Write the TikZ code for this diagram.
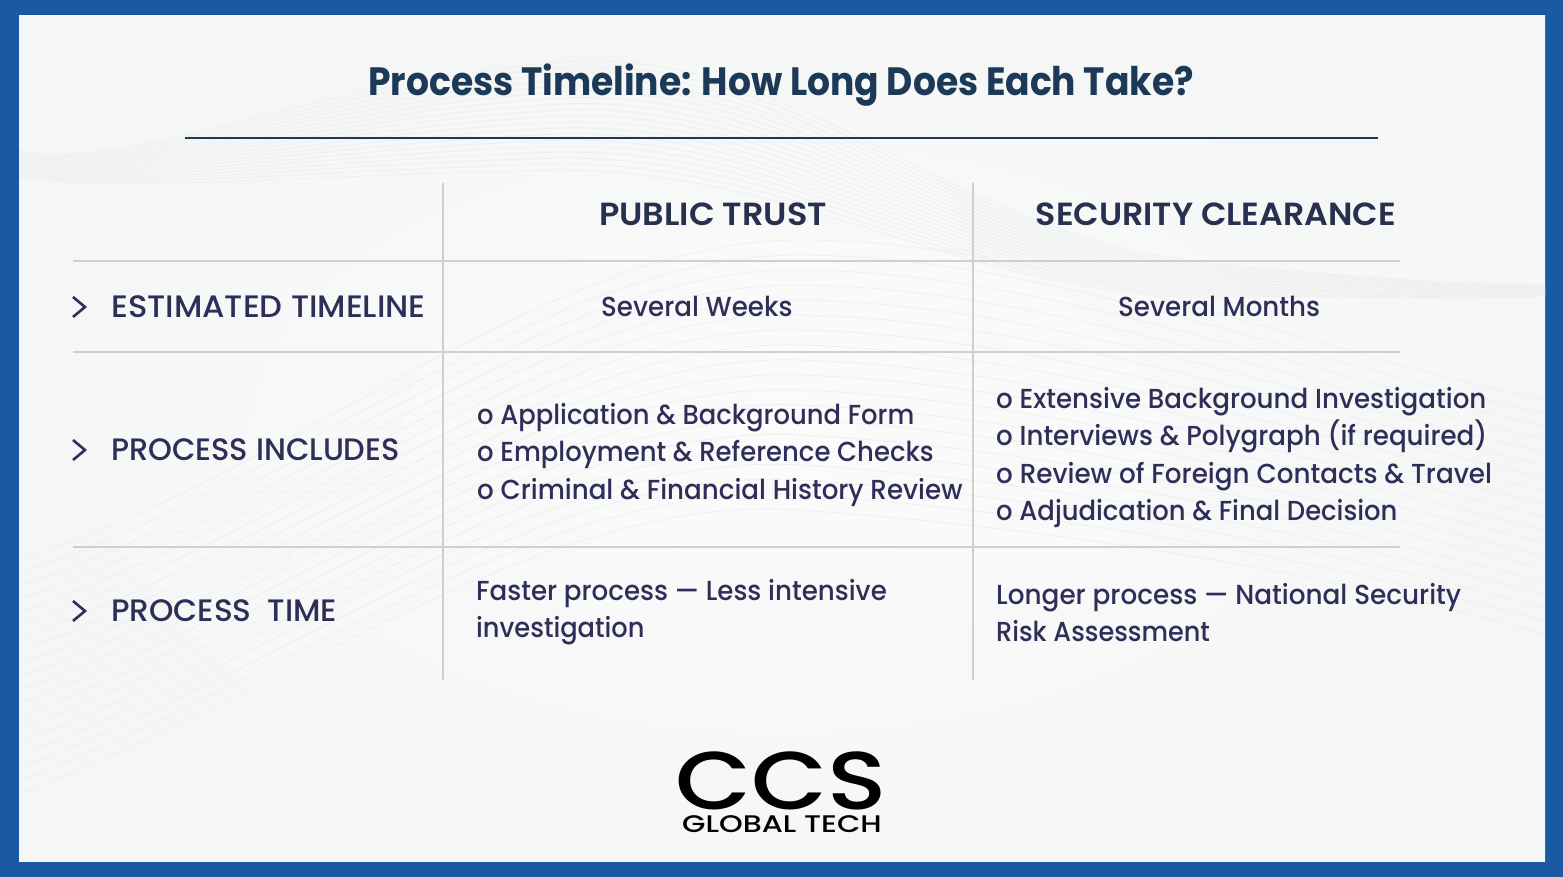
\documentclass[tikz,border=0pt]{standalone}
\usepackage{fontspec}
\setmainfont{Poppins}[UprightFont=*-Medium,BoldFont=*-SemiBold,FakeStretch=0.95]
\newfontfamily\rowfont{Poppins}[UprightFont=*-Medium,FakeStretch=0.88]
\newfontfamily\headfont{Poppins}[UprightFont=*-SemiBold,FakeStretch=0.88]
\newfontfamily\titlefont{Poppins}[UprightFont=*-Bold,FakeStretch=0.90]
\newfontfamily\logofont{Poppins}[UprightFont=*-Medium,FakeStretch=1.2]
\newfontfamily\logosmall{Poppins}[UprightFont=*-Medium,FakeStretch=1.26]
\definecolor{framebl}{HTML}{1A5AA5}
\definecolor{titlecol}{HTML}{1C3A57}
\definecolor{textcol}{HTML}{2E2E58}
\definecolor{headcol}{HTML}{27304F}
\definecolor{rulecol}{HTML}{CFCFCF}
\definecolor{paperin}{HTML}{FBFBFB}
\definecolor{paperout}{HTML}{F5F6F6}
\definecolor{wave}{HTML}{EEEFEF}
\tikzset{
 rowlabel/.style={anchor=base west,inner sep=0,font=\rowfont\fontsize{31}{31}\selectfont,text=textcol},
 colhead/.style={anchor=base,inner sep=0,font=\headfont\fontsize{32}{32}\selectfont,text=headcol},
 cell/.style={anchor=base west,inner sep=0,font=\fontsize{27.5}{27.5}\selectfont,text=textcol},
 grid/.style={draw=rulecol,line width=1.1pt},
 chev/.style={draw=textcol,line width=2.6pt},
}
\begin{document}
\begin{tikzpicture}[x=1pt,y=-1pt]
\useasboundingbox (0,0) rectangle (1563,877);
\fill[framebl] (0,0) rectangle (1563,877);
\shade[inner color=paperin,outer color=paperout] (19,15.5) rectangle (1545,861);
\begin{scope}
\clip (19,15.5) rectangle (1545,861);
\foreach \i in {0,...,18}{
 \draw[wave,line width=.8pt] (19,{150+\i*1.5}) .. controls (120,{175+\i*1}) and (300,{85+\i*5}) .. (560,{62+\i*6}) .. controls (800,{45+\i*7}) and (950,{235+\i*3}) .. (1200,{262+\i*2}) .. controls (1330,{275+\i}) and (1450,{285+\i}) .. (1545,{285+\i*.6});
 \draw[wave,line width=.8pt] (19,{560+\i*13}) .. controls (300,{470+\i*12}) and (550,{240+\i*14}) .. (800,{240+\i*15}) .. controls (1050,{240+\i*16}) and (1300,{350+\i*12}) .. (1545,{400+\i*13});
}
\end{scope}
\node[anchor=base,inner sep=0,font=\titlefont\fontsize{39.5}{39.5}\selectfont,text=titlecol] (title) at (781,95.5) {\scalebox{1.015}[1]{Process Timeline: How Long Does Each Take?}};
\coordinate (tl) at (185,138); \coordinate (tr) at (1378,138);
\draw[titlecol,line width=1.5pt] (tl) -- (tr);
\coordinate (v1t) at (443,183); \coordinate (v1b) at (443,680);
\coordinate (v2t) at (973,183); \coordinate (v2b) at (973,680);
\coordinate (h1l) at (73,261); \coordinate (h1r) at (1400,261);
\coordinate (h2l) at (73,352); \coordinate (h2r) at (1400,352);
\coordinate (h3l) at (73,547); \coordinate (h3r) at (1400,547);
\draw[grid] (v1t) -- (v1b); \draw[grid] (v2t) -- (v2b);
\draw[grid] (h1l) -- (h1r); \draw[grid] (h2l) -- (h2r); \draw[grid] (h3l) -- (h3r);
\node[colhead] (pt) at (713,226) {\scalebox{1.19}[1]{PUBLIC TRUST}};
\node[colhead] (sc) at (1216,226) {\scalebox{1.18}[1]{SECURITY CLEARANCE}};
\foreach \y/\n in {307/a,450/b,611/c}{
 \coordinate (c\n1) at (73,\y-10); \coordinate (c\n2) at (85,\y); \coordinate (c\n3) at (73,\y+10);
 \draw[chev] (c\n1) -- (c\n2) -- (c\n3);
}
\node[rowlabel] (r1) at (111,317) {\scalebox{1.179}[1]{ESTIMATED TIMELINE}};
\node[rowlabel] (r2) at (111,460) {\scalebox{1.113}[1]{PROCESS INCLUDES}};
\node[rowlabel] (r3) at (111,621) {\scalebox{1.14}[1]{PROCESS\ \ TIME}};
\node[cell] (w1) at (601,316.5) {Several Weeks};
\node[cell] (w2) at (1118,316.5) {Several Months};
\node[cell] (p1) at (477,424) {\scalebox{.988}[1]{o Application \& Background Form}};
\node[cell] (p2) at (477,461) {\scalebox{.991}[1]{o Employment \& Reference Checks}};
\node[cell] (p3) at (477,499) {o Criminal \& Financial History Review};
\node[cell] (s1) at (996,408) {o Extensive Background Investigation};
\node[cell] (s2) at (996,445) {o Interviews \& Polygraph (if required)};
\node[cell] (s3) at (996,483) {\scalebox{1.004}[1]{o Review of Foreign Contacts \& Travel}};
\node[cell] (s4) at (996,520) {\scalebox{.99}[1]{o Adjudication \& Final Decision}};
\node[cell] (f1) at (476,600) {Faster process — Less intensive};
\node[cell] (f2) at (476,637) {\scalebox{.983}[1]{investigation}};
\node[cell] (l1) at (996,604) {\scalebox{1.006}[1]{Longer process — National Security}};
\node[cell] (l2) at (996,641) {\scalebox{.977}[1]{Risk Assessment}};
\node[anchor=base,inner sep=0,text=black,font=\logofont\fontsize{82}{82}\selectfont] (ccs) at (781,809) {CCS};
\node[anchor=base,inner sep=0,text=black,font=\logosmall\fontsize{24}{24}\selectfont] (gt) at (782,832) {GLOBAL TECH};
\end{tikzpicture}
\end{document}
